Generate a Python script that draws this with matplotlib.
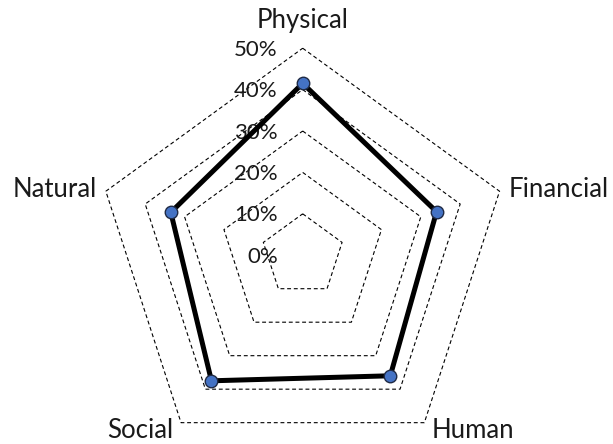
import numpy as np
import matplotlib
matplotlib.use('Agg')
import matplotlib.pyplot as plt

plt.rcParams['font.family'] = ['Lato', 'DejaVu Sans']

# data
categories = ['Physical', 'Financial', 'Human', 'Social', 'Natural']
values = [0.415, 0.34, 0.36, 0.375, 0.335]
ring_levels = [0.0, 0.1, 0.2, 0.3, 0.4, 0.5]

n = len(categories)
angles = np.linspace(0, 2 * np.pi, n, endpoint=False)
ang_closed = np.append(angles, angles[0])
val_closed = np.append(values, values[0])

fig = plt.figure(figsize=(6.13, 4.44), dpi=100)
# centre of the web at (302.7, 255.2) px, outer ring radius 207 px
ax = fig.add_axes([0.1561, -0.041, 0.6754, 0.9324], projection='polar')
ax.set_theta_offset(np.pi / 2)
ax.set_theta_direction(-1)
ax.set_ylim(0, 0.5)
ax.set_axis_off()

# dashed pentagon grid
for r in ring_levels[1:]:
    ax.plot(ang_closed, [r] * (n + 1), color='black', lw=0.8,
            dashes=(3.5, 2.5), clip_on=False, zorder=1)

# series
ax.plot(ang_closed, val_closed, color='black', lw=3.6, zorder=3,
        solid_joinstyle='miter', clip_on=False)
ax.plot(angles, values, 'o', ms=9, mfc='#4472C4', mec='#1F2A44', mew=1.0,
        zorder=4, clip_on=False)

# radial tick labels
for r in ring_levels:
    ax.annotate(f'{int(round(r * 100))}%', xy=(0, r), xytext=(-25, -1.5),
                textcoords='offset pixels', ha='right', va='center',
                fontsize=16, color='#1a1a1a', zorder=2)

# category labels
offsets = [(0, 20), (9, -6), (7, -15), (-8, -15), (-9, -6)]
aligns = ['center', 'left', 'left', 'right', 'right']
for ang, cat, off, ha in zip(angles, categories, offsets, aligns):
    ax.annotate(cat, xy=(ang, 0.5), xytext=off, textcoords='offset pixels',
                ha=ha, va='baseline', fontsize=18.5, color='#1a1a1a')

plt.savefig('out.png', dpi=100)
